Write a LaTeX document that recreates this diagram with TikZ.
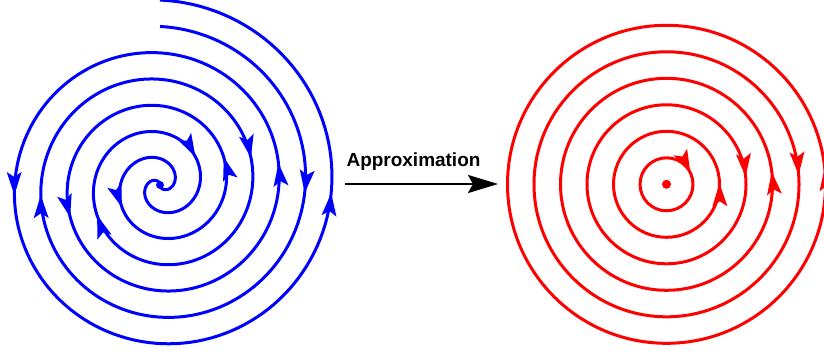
\documentclass[tikz,border=0pt]{standalone}
\usepackage{fontspec}
\setmainfont{Liberation Sans}
\usetikzlibrary{arrows.meta}

% spiral pitch, px per degree
\newcommand{\spk}{0.146825}

\tikzset{
    bluecurve/.style={blue, line width=0.06cm},
    redcurve/.style={red, line width=0.06cm},
    flowhead/.pic={\fill (0,0) -- (-23,7.5) -- (-18,0) -- (-23,-7.5) -- cycle;},
}

\begin{document}
\begin{tikzpicture}[x=0.02cm, y=0.02cm]

    \useasboundingbox (0,0) rectangle (824,356);

    \coordinate (bluecentre) at (160,171);
    \coordinate (redcentre) at (666.5,171.7);

    % Spiral, outward arm
    \draw[bluecurve] plot[domain=-1170:90, samples=500]
        ({160+\spk*(\x+1170)*cos(\x)}, {171+\spk*(\x+1170)*sin(\x)});
    % Spiral, inward arm
    \draw[bluecurve] plot[domain=-1170:-90, samples=450]
        ({160-\spk*(\x+1170)*cos(\x)}, {171-\spk*(\x+1170)*sin(\x)});

    % Arrows on the spiral
    \foreach \a in {-176.1, -520.3, -870, -696.7, -349.6, -2.7} {
        \pgfmathsetmacro{\spr}{\spk*(\a+1170)}
        \pgfmathsetmacro{\headang}{\a+90-atan(8.4125/\spr)}
        \pic[blue, rotate=\headang] at ({160+\spr*cos(\a)}, {171+\spr*sin(\a)}) {flowhead};
    }
    \foreach \a in {-355.1, -694.2, -861.3, -523.3, -183.1} {
        \pgfmathsetmacro{\spr}{\spk*(\a+1170)}
        \pgfmathsetmacro{\headang}{\a+90-atan(8.4125/\spr)}
        \pic[blue, rotate=\headang] at ({160-\spr*cos(\a)}, {171-\spr*sin(\a)}) {flowhead};
    }

    \fill[blue] (bluecentre) circle[radius=4];

    % Label and arrow
    \node[font=\bfseries\fontsize{10.8pt}{13pt}\selectfont, anchor=base, inner sep=0pt]
        (approxlabel) at (413.5,189.5) {Approximation};
    \coordinate (approxtail) at (345,172);
    \coordinate (approxtip) at (498,172);
    \draw[line width=0.054cm, -{Stealth[length=0.6cm, width=0.36cm, inset=0.1cm]}]
        (approxtail) -- (approxtip);

    % Circles
    \foreach \i in {1,...,6}
        \draw[redcurve] (redcentre) circle[radius=26.5*\i];
    % anticlockwise arrows
    \foreach \rad/\a in {53/1, 106/6.8, 159/6}
        \pic[red, rotate=\a+90] at ([shift={(\a:\rad)}]redcentre) {flowhead};
    % clockwise arrows
    \foreach \rad/\a in {26.5/25.9, 79.5/5.6, 132.5/4.1}
        \pic[red, rotate=\a-90] at ([shift={(\a:\rad)}]redcentre) {flowhead};

    \fill[red] (redcentre) circle[radius=4.5];

\end{tikzpicture}
\end{document}
